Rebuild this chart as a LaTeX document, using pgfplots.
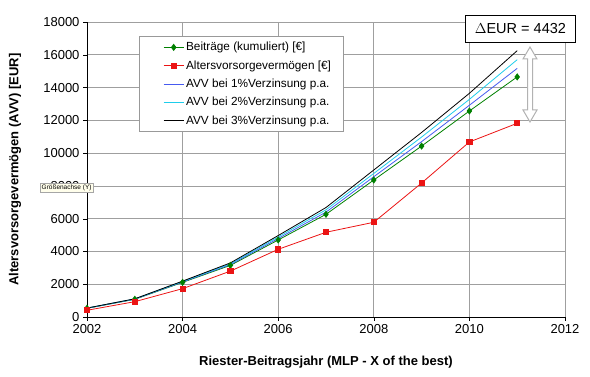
\documentclass[border=0pt]{standalone}
\usepackage{fontspec}
\setmainfont{Liberation Sans}
\usepackage{pgfplots}
\pgfplotsset{compat=1.18}
\definecolor{cgreen}{RGB}{0,128,0}
\definecolor{cred}{RGB}{235,20,20}
\definecolor{cblue}{RGB}{70,90,240}
\definecolor{ccyan}{RGB}{30,205,235}
\begin{document}
\begin{tikzpicture}
\begin{axis}[
  at={(0,0)}, anchor=south west,
  scale only axis, width=478pt, height=295pt,
  xmin=2002, xmax=2012, ymin=0, ymax=18000,
  xtick={2002,2004,...,2012}, ytick={0,2000,...,18000},
  /pgf/number format/assume math mode=true,
  xticklabel style={/pgf/number format/1000 sep={}, font=\fontsize{13}{13}\selectfont},
  yticklabel style={/pgf/number format/1000 sep={}, font=\fontsize{13}{13}\selectfont},
  scaled y ticks=false,
  grid=major, major grid style={gray!75, line width=0.6pt},
  axis line style={black, line width=0.7pt},
  axis x line*=bottom, axis y line*=left,
  tick style={black}, tick align=outside, major tick length=4pt,
  xlabel={\textbf{Riester-Beitragsjahr (MLP - X of the best)}},
  ylabel={\textbf{Altersvorsorgevermögen (AVV) [EUR]}},
  xlabel style={font=\fontsize{13}{13}\selectfont, at={(axis description cs:0.5,0)}, anchor=center, yshift=-45pt},
  ylabel style={font=\fontsize{13}{13}\selectfont, at={(axis description cs:0,0.5)}, anchor=center, yshift=72pt},
  legend style={at={(rel axis cs:0.1095,0.9525)}, anchor=north west, draw=gray!80, line width=0.7pt,
    font=\fontsize{11.8}{11.8}\selectfont, row sep=4.3pt, inner xsep=10pt, inner ysep=4pt},
  legend cell align=left,
  legend image code/.code={\path[draw=none,fill=none] (-14pt,0pt) -- (0pt,0pt);\draw[mark repeat=2,mark phase=2,#1] plot coordinates {(0pt,0pt) (10pt,0pt) (20pt,0pt)};},
]
\addplot[cgreen, line width=0.8pt, mark=diamond*, mark size=3pt, mark options={fill=cgreen}] coordinates {
(2002,530) (2003,1080) (2004,2115) (2005,3150) (2006,4700) (2007,6265) (2008,8360) (2009,10430) (2010,12570) (2011,14650)};
\addlegendentry{Beiträge (kumuliert) [€]}
\addplot[cred, line width=0.8pt, mark=square*, mark size=2.6pt, mark options={fill=cred}] coordinates {
(2002,410) (2003,935) (2004,1730) (2005,2800) (2006,4130) (2007,5170) (2008,5780) (2009,8175) (2010,10680) (2011,11820)};
\addlegendentry{Altersvorsorgevermögen [€]}
\addplot[cblue, line width=0.8pt] coordinates {
(2002,535) (2003,1090) (2004,2140) (2005,3200) (2006,4790) (2007,6400) (2008,8560) (2009,10700) (2010,12920) (2011,15170)};
\addlegendentry{AVV bei 1\%Verzinsung p.a.}
\addplot[ccyan, line width=0.8pt] coordinates {
(2002,540) (2003,1100) (2004,2165) (2005,3250) (2006,4880) (2007,6540) (2008,8760) (2009,10980) (2010,13280) (2011,15700)};
\addlegendentry{AVV bei 2\%Verzinsung p.a.}
\addplot[black, line width=0.8pt] coordinates {
(2002,545) (2003,1110) (2004,2190) (2005,3300) (2006,4970) (2007,6680) (2008,8970) (2009,11260) (2010,13650) (2011,16250)};
\addlegendentry{AVV bei 3\%Verzinsung p.a.}
\end{axis}
\draw[gray!60, fill=white, line width=1pt, line join=miter]
  (443pt,270pt) -- (450pt,258pt) -- (445.5pt,258pt) -- (445.5pt,207pt) -- (450pt,207pt) -- (443pt,195pt)
  -- (436pt,207pt) -- (440.5pt,207pt) -- (440.5pt,258pt) -- (436pt,258pt) -- cycle;
\node[draw=black, fill=white, line width=0.8pt, anchor=north west, minimum width=110pt, minimum height=27pt,
  font=\fontsize{14.5}{14.5}\selectfont, inner sep=2pt] at (378pt,302pt) {$\Delta$EUR = 4432};
\node[draw=gray!70, fill=yellow!8, font=\fontsize{6.5}{6.5}\selectfont, inner sep=1.5pt, anchor=west]
  at (-47pt,129pt) {Größenachse (Y)};
\pgfresetboundingbox
\path[use as bounding box] (-87pt,-60pt) rectangle (503pt,317pt);
\end{tikzpicture}
\end{document}
